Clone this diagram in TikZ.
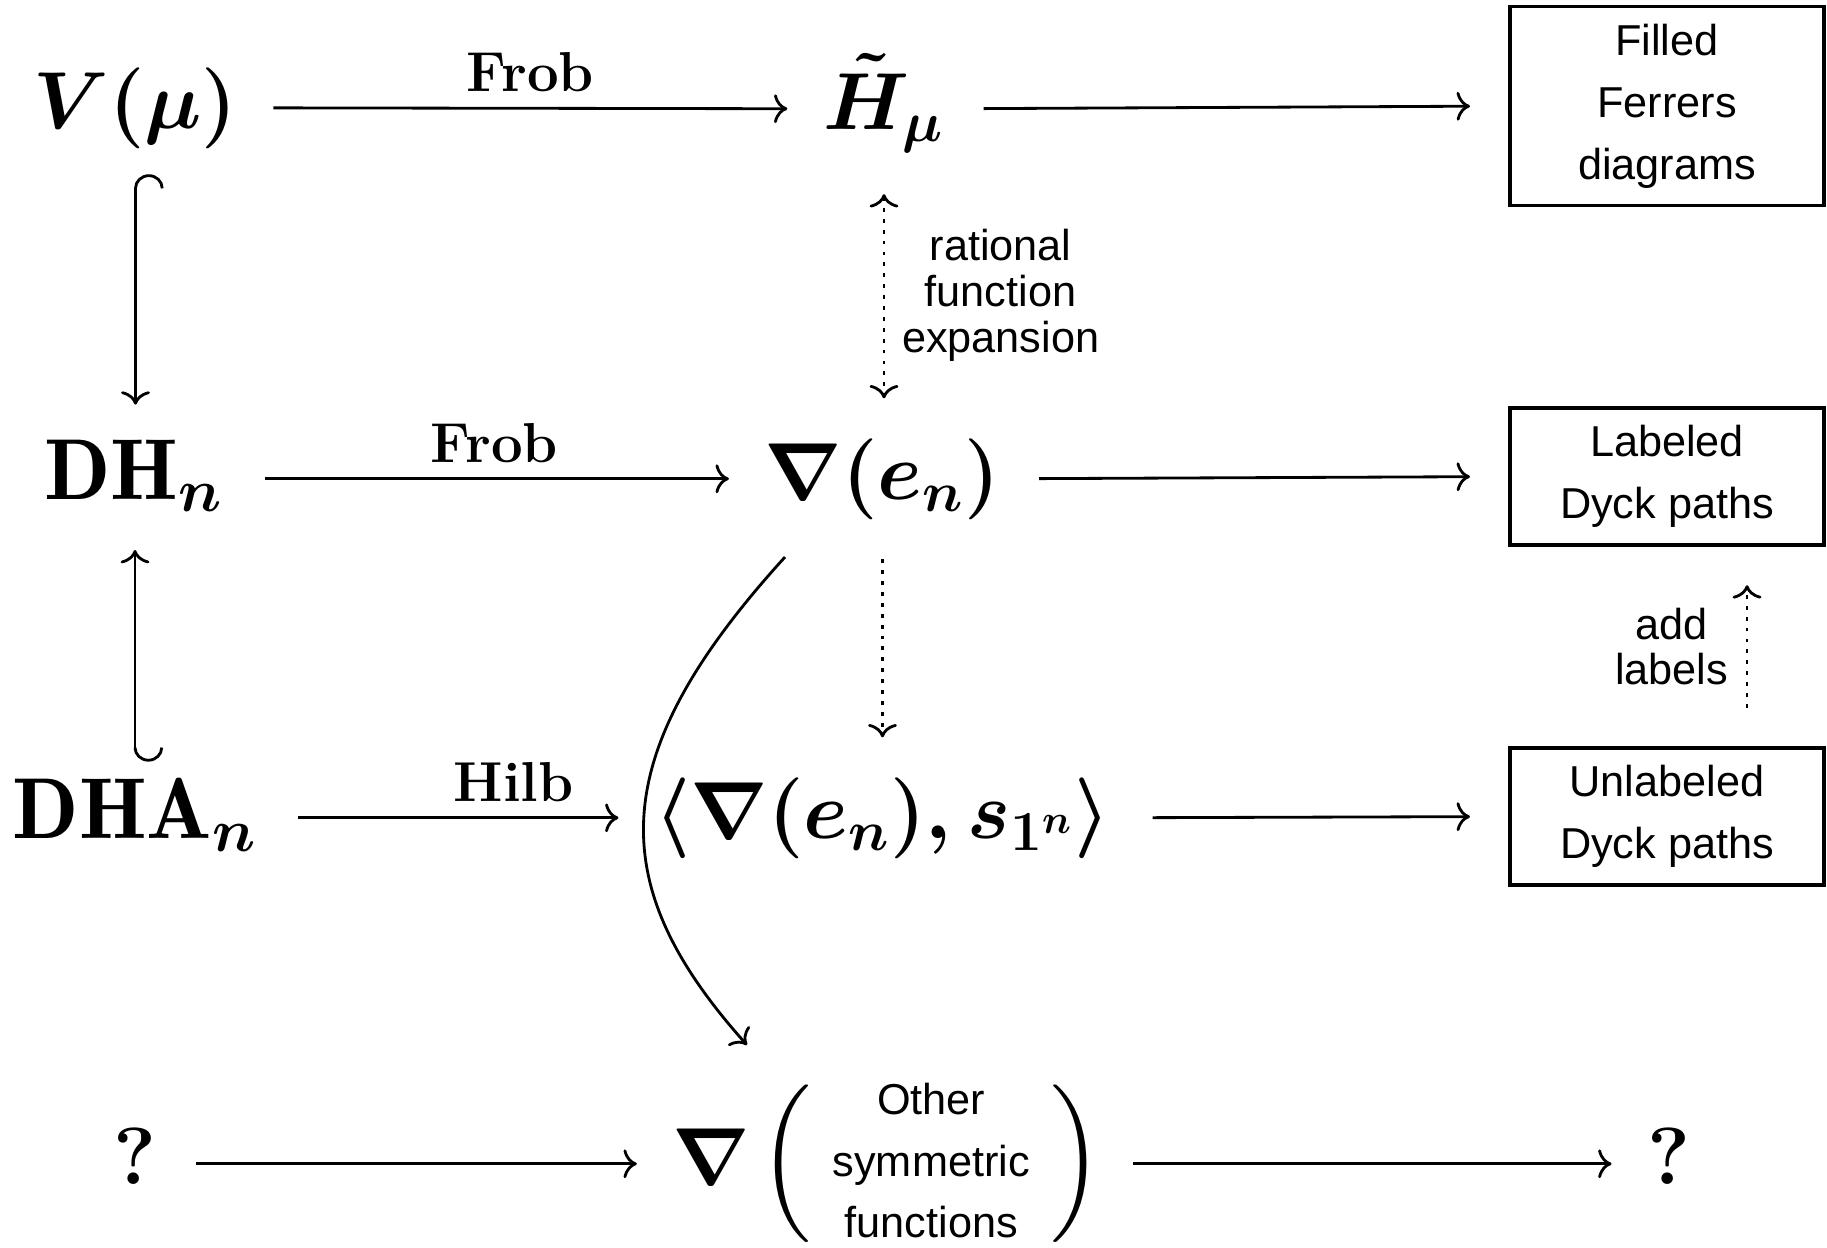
\RequirePackage{fix-cm}
\documentclass[tikz,border=0pt]{standalone}
\usepackage{amsmath}
\usepackage{fontspec}
\newfontfamily\arialfont{Liberation Sans}
\usetikzlibrary{arrows.meta}
\def\axh{5.75pt}
\begin{document}
\begin{tikzpicture}[x=0.01cm,y=-0.01cm,
  every node/.style={inner sep=0pt, outer sep=0pt},
  mth/.style={anchor=base, font=\fontsize{23}{28}\selectfont},
  bigmth/.style={anchor=base, font=\fontsize{24.6}{30}\selectfont},
  lbl/.style={font=\fontsize{16}{19}\selectfont\bfseries, above=1.6mm},
  boxnode/.style={draw, line width=1pt, minimum width=89.3pt, inner ysep=5pt, align=center, font=\arialfont\fontsize{12.3}{17.6}\selectfont},
  sidetext/.style={align=center, font=\arialfont\fontsize{12.3}{13}\selectfont},
  cmtip/.style={-{Computer Modern Rightarrow[length=3.8pt,width=8.2pt]}},
  harrow/.style={line width=0.8pt, cmtip, shorten <=4.1mm, shorten >=3.6mm},
  boxarrow/.style={line width=0.8pt, cmtip, shorten <=3.9mm, shorten >=4mm},
  hookdown/.style={line width=0.8pt, {Hooks[arc=180,length=4pt,width=16pt,right]}-{Computer Modern Rightarrow[length=3.8pt,width=8.2pt]}, shorten <=2.6mm, shorten >=3.5mm},
  hookup/.style={line width=0.8pt, {Hooks[arc=180,length=4pt,width=16pt,left]}-{Computer Modern Rightarrow[length=3.8pt,width=8.2pt]}, shorten <=1.6mm, shorten >=3.8mm},
  dotarrow/.style={line width=0.8pt, dash pattern=on 1.1pt off 2pt, cmtip, shorten <=4mm, shorten >=4mm},
  dotboth/.style={line width=0.8pt, dash pattern=on 1.1pt off 2pt, {Computer Modern Rightarrow[length=3.8pt,width=8.2pt]}-{Computer Modern Rightarrow[length=3.8pt,width=8.2pt]}, shorten <=4.2mm, shorten >=4mm},
  curvearrow/.style={line width=0.8pt, cmtip},
]
\useasboundingbox (0,0) rectangle (1827,1247);

% row 1
\node[mth] (V) at (135.5,128) {$\boldsymbol{V(\mu)}$};
\node[mth] (H) at (884,129) {$\boldsymbol{\tilde{H}_{\mu}}$};
\node[boxnode] (F) at (1667,106) {Filled\\Ferrers\\diagrams};
% row 2
\node[bigmth] (DH) at (134,499) {$\mathbf{DH}_{\boldsymbol{n}}$};
\node[mth] (E) at (882.5,499) {$\boldsymbol{\nabla(e_n)}$};
\node[boxnode] (L) at (1667,476.5) {Labeled\\Dyck paths};
% row 3
\node[bigmth] (DHA) at (135,838) {$\mathbf{DHA}_{\boldsymbol{n}}$};
\node[mth] (P) at (882.5,838) {$\boldsymbol{\langle\nabla(e_n),s_{1^n}\rangle}$};
\node[boxnode] (U) at (1667,816.5) {Unlabeled\\Dyck paths};
% row 4
\node[mth] (Q1) at (135,1184) {\textbf{?}};
\node[mth] (O) at (888,1184) {$\boldsymbol{\nabla}\mskip 2mu\Bigl(\vcenter{\hbox{\arialfont\fontsize{12.3}{17.5}\selectfont\begin{tabular}{c}Other\\symmetric\\functions\end{tabular}}}\Bigr)$};
\node[mth] (Q2) at (1669,1184) {\textbf{?}};

% horizontal arrows
\draw[harrow, shorten <=3.6mm] ([yshift=\axh]V.base east) -- node[midway, lbl] {Frob} ([yshift=\axh]H.base west);
\draw[boxarrow] ([yshift=\axh]H.base east) -- (F.west);
\draw[harrow] ([yshift=\axh]DH.base east) -- node[midway, lbl] {Frob} ([yshift=\axh]E.base west);
\draw[boxarrow] ([yshift=\axh]E.base east) -- (L.west);
\draw[harrow] ([yshift=\axh]DHA.base east) -- node[pos=0.645, lbl] {Hilb} ([yshift=\axh]P.base west);
\draw[boxarrow, shorten <=4.2mm] ([yshift=\axh]P.base east) -- (U.west);
\draw[harrow, shorten <=4mm] ([yshift=\axh]Q1.base east) -- ([yshift=\axh]O.base west);
\draw[harrow, shorten <=3mm] ([yshift=\axh]O.base east) -- ([yshift=\axh]Q2.base west);

% vertical arrows
\draw[hookdown] (V.south) -- (V.south |- DH.north);
\draw[hookup] (DHA.north) -- (DHA.north |- DH.south);
\draw[dotboth] (H.south) -- node[midway, right=1.8mm, sidetext] {rational\\function\\expansion} (H.south |- E.north);
\draw[dotarrow] (E.south) -- (E.south |- P.north);
\draw[dotarrow] ([xshift=8mm]U.north) -- node[midway, left=1.9mm, sidetext] {add\\labels} ([xshift=8mm]L.south);

% curved arrow
\coordinate (c1) at (785,557);
\coordinate (c2) at (747,1045);
\draw[curvearrow] (c1) .. controls (603,757) and (604,885) .. (c2);
\end{tikzpicture}
\end{document}
